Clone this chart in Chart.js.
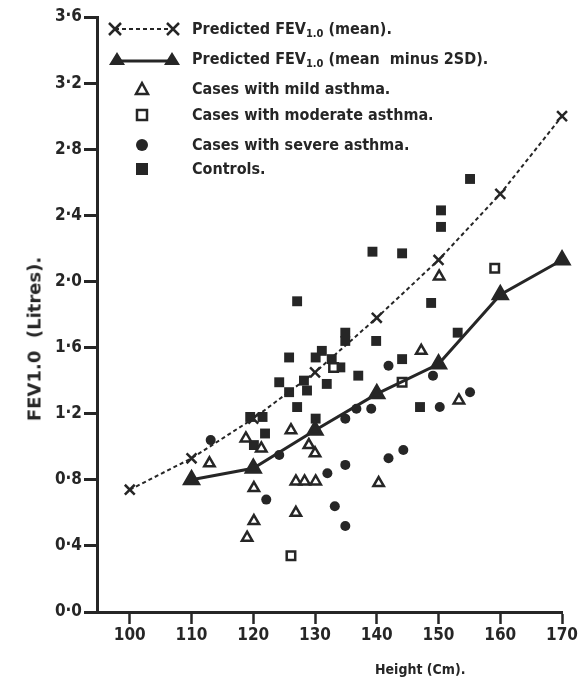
<!DOCTYPE html>
<html>
<head>
<meta charset="utf-8">
<script src="https://cdn.jsdelivr.net/npm/chart.js@4.4.1/dist/chart.umd.min.js"></script>
<style>
  body { margin: 0; background: #fff; }
  #wrap { position: relative; width: 579px; height: 685px; }
  #legend { position: absolute; left: 0; top: 0; color: #262626;
    font-family: 'DejaVu Sans Condensed', 'DejaVu Sans', sans-serif; font-weight: bold; font-size: 16px; }
  .row { position: absolute; left: 100px; width: 440px; height: 24px; }
  .row svg { position: absolute; left: 0; top: 0; }
  .row span { position: absolute; left: 92px; top: 0; line-height: 24px; white-space: nowrap; }
  sub { font-size: 11px; vertical-align: -3px; }
  .ttl { position: absolute; color: #262626; white-space: nowrap; font-weight: bold; }
  #xt { left: 375px; top: 661px; font-family: 'DejaVu Sans Condensed', sans-serif; font-size: 14px; }
  #yt { left: 34px; top: 339px; transform: translate(-50%, -50%) rotate(-90deg);
    font-family: 'DejaVu Sans', sans-serif; font-size: 18px; }
</style>
</head>
<body>
<div id="wrap">
  <canvas id="chart"></canvas>
  <div id="legend"></div>
  <div class="ttl" id="xt">Height (Cm).</div>
  <div class="ttl" id="yt">FEV1.0&nbsp; (Litres).</div>
</div>
<script>
// predicted curves
const heights = [100, 110, 120, 130, 140, 150, 160, 170];
const meanFev = [0.74, 0.93, 1.17, 1.45, 1.78, 2.13, 2.53, 3.00];
const lowHeights = [110, 120, 130, 140, 150, 160, 170];
const lowFev = [0.80, 0.87, 1.10, 1.32, 1.50, 1.92, 2.13];

// mild asthma (open triangles)
const mildH = [150.1, 147.2, 153.3, 140.3, 126.9, 128.3, 130.1, 129.0, 130.0, 126.9, 112.9, 120.1, 120.1, 119.0, 126.1, 118.8, 121.3];
const mildFev = [2.03, 1.58, 1.28, 0.78, 0.79, 0.79, 0.79, 1.01, 0.96, 0.60, 0.90, 0.75, 0.55, 0.45, 1.10, 1.05, 0.99];

// moderate asthma (open squares)
const modH = [133.0, 144.1, 159.1, 126.1];
const modFev = [1.48, 1.39, 2.08, 0.34];

// severe asthma (filled circles)
const sevH = [155.1, 150.2, 149.1, 141.9, 144.3, 141.9, 134.9, 132.0, 133.2, 134.9, 122.1, 134.9, 136.7, 139.1, 113.1, 124.2];
const sevFev = [1.33, 1.24, 1.43, 1.49, 0.98, 0.93, 0.89, 0.84, 0.64, 0.52, 0.68, 1.17, 1.23, 1.23, 1.04, 0.95];

// controls (filled squares)
const ctrlH = [155.1, 150.4, 150.4, 144.1, 139.3, 127.1, 148.8, 153.1, 134.9, 134.9, 139.9, 131.1, 130.1, 125.8, 144.1,
  132.7, 134.1, 124.2, 125.8, 128.7, 131.9, 137.0, 127.1, 130.1, 119.5, 121.5, 121.9, 120.1, 147.0, 128.2];
const ctrlFev = [2.62, 2.43, 2.33, 2.17, 2.18, 1.88, 1.87, 1.69, 1.69, 1.64, 1.64, 1.58, 1.54, 1.54, 1.53,
  1.53, 1.48, 1.39, 1.33, 1.34, 1.38, 1.43, 1.24, 1.17, 1.18, 1.18, 1.08, 1.01, 1.24, 1.40];

const xTicks = [100, 110, 120, 130, 140, 150, 160, 170];
const yTicks = [0, 0.4, 0.8, 1.2, 1.6, 2.0, 2.4, 2.8, 3.2, 3.6];

const ink = '#262626';
const pts = (xs, ys) => xs.map((x, i) => ({x: x, y: ys[i]}));
const tickFont = {family: "'DejaVu Sans Condensed', sans-serif", size: 17, weight: 'bold'};

// legend, drawn as html over the canvas
const legendRows = [
  {y: 29, svg: '<line x1="15" y1="12" x2="73" y2="12" stroke="' + ink + '" stroke-width="2" stroke-dasharray="4,3"/>' +
    '<path d="M9 6 L21 18 M21 6 L9 18 M67 6 L79 18 M79 6 L67 18" stroke="' + ink + '" stroke-width="2.5"/>',
    text: 'Predicted FEV<sub>1.0</sub> (mean).'},
  {y: 59, svg: '<line x1="17" y1="14" x2="72" y2="14" stroke="' + ink + '" stroke-width="3"/>' +
    '<path d="M17 5 L25 18 L9 18 Z M72 5 L80 18 L64 18 Z" fill="' + ink + '"/>',
    text: 'Predicted FEV<sub>1.0</sub> (mean&nbsp; minus 2SD).'},
  {y: 89, svg: '<path d="M42 6 L48 17 L36 17 Z" fill="#fff" stroke="' + ink + '" stroke-width="2.5"/>',
    text: 'Cases with mild asthma.'},
  {y: 115, svg: '<rect x="37" y="7" width="10" height="10" fill="#fff" stroke="' + ink + '" stroke-width="2.5"/>',
    text: 'Cases with moderate asthma.'},
  {y: 145, svg: '<circle cx="42" cy="12" r="6" fill="' + ink + '"/>',
    text: 'Cases with severe asthma.'},
  {y: 169, svg: '<rect x="36" y="6" width="12" height="12" fill="' + ink + '"/>',
    text: 'Controls.'}
];
document.getElementById('legend').innerHTML = legendRows.map(r =>
  '<div class="row" style="top:' + (r.y - 12) + 'px"><svg width="90" height="24">' + r.svg + '</svg><span>' + r.text + '</span></div>'
).join('');

new Chart(document.getElementById('chart'), {
  type: 'scatter',
  data: {
    datasets: [
      {label: 'mean', data: pts(heights, meanFev), showLine: true, borderColor: ink, borderWidth: 2, borderDash: [4, 3],
        pointStyle: 'crossRot', pointRadius: 7, pointBorderWidth: 2.5, pointBorderColor: ink, clip: false},
      {label: 'mean minus 2SD', data: pts(lowHeights, lowFev), showLine: true, borderColor: ink, borderWidth: 3,
        pointStyle: 'triangle', pointRadius: 8, backgroundColor: ink, pointBorderColor: ink, clip: false},
      {label: 'mild', data: pts(mildH, mildFev), pointStyle: 'triangle', pointRadius: 6, backgroundColor: '#fff',
        borderColor: ink, pointBorderWidth: 2.5, clip: false},
      {label: 'moderate', data: pts(modH, modFev), pointStyle: 'rect', pointRadius: 6, backgroundColor: '#fff',
        borderColor: ink, pointBorderWidth: 2.5, clip: false},
      {label: 'severe', data: pts(sevH, sevFev), pointStyle: 'circle', pointRadius: 5, backgroundColor: ink,
        borderColor: ink, pointBorderWidth: 0, clip: false},
      {label: 'controls', data: pts(ctrlH, ctrlFev), pointStyle: 'rect', pointRadius: 7, backgroundColor: ink,
        borderColor: ink, pointBorderWidth: 0, clip: false}
    ]
  },
  options: {
    responsive: true,
    maintainAspectRatio: false,
    animation: false,
    layout: {padding: {top: 17, right: 14, bottom: 0, left: 0}},
    plugins: {legend: {display: false}, tooltip: {enabled: false}},
    scales: {
      x: {
        type: 'linear', min: 94.69, max: 170,
        afterBuildTicks: s => { s.ticks = xTicks.map(v => ({value: v})); },
        afterFit: s => { s.height = 73; },
        border: {display: true, color: ink, width: 3},
        grid: {drawOnChartArea: false, drawTicks: true, tickLength: 12, tickWidth: 2.5, tickColor: ink},
        ticks: {color: ink, font: tickFont, padding: 1, maxRotation: 0}
      },
      y: {
        type: 'linear', min: 0, max: 3.6,
        afterBuildTicks: s => { s.ticks = yTicks.map(v => ({value: v})); },
        afterFit: s => { s.width = 97; },
        border: {display: true, color: ink, width: 3},
        grid: {drawOnChartArea: false, drawTicks: true, tickLength: 13, tickWidth: 3, tickColor: ink},
        ticks: {color: ink, font: tickFont, padding: 2, callback: v => v.toFixed(1).replace('.', '·')}
      }
    }
  }
});
</script>
</body>
</html>
